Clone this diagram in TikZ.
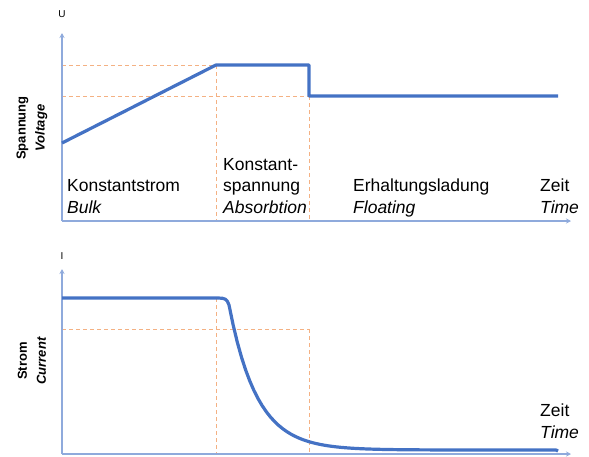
\documentclass[tikz,border=0pt]{standalone}
\usepackage{fontspec}
\setmainfont{Liberation Sans}
\usepackage{tikz}
\usetikzlibrary{positioning,arrows.meta}
\definecolor{axisblue}{HTML}{8FAADC}
\definecolor{curveblue}{HTML}{4472C4}
\definecolor{guideorange}{HTML}{F4B183}

\begin{document}
\begin{tikzpicture}[x=1pt, y=-1pt, every node/.style={font=\fontsize{17.5}{21.5}\selectfont, inner sep=0pt},
  axis/.style={draw=axisblue, line width=1.3pt, -{Stealth[length=5pt,width=5pt]}},
  curve/.style={draw=curveblue, line width=3.2pt, line join=round},
  guide/.style={draw=guideorange, line width=0.9pt, dash pattern=on 4pt off 3pt}]
\useasboundingbox (0,0) rectangle (589,456);
% voltage plot
\coordinate (u0) at (62,221);
\coordinate (ut) at (62,33); \coordinate (ur) at (571,221);
\coordinate (ustart) at (62,143); \coordinate (uhi) at (216,65); \coordinate (uoff) at (309,65);
\coordinate (udrop) at (309,96); \coordinate (uend) at (558,96);
\draw[guide] (62,65)--(uhi); \draw[guide] (62,96)--(udrop); \draw[guide] (uhi)--(216,221); \draw[guide] (udrop)--(309,221);
\draw[axis] (u0)--(ut); \draw[axis] (u0)--(ur);
\draw[curve] (ustart)--(uhi)--(uoff)--(udrop)--(uend);
\node[font=\fontsize{10}{12}\selectfont] (ulab) at (62,14) {U};
\node[rotate=90, align=center, font=\fontsize{13}{19}\bfseries] (uname) at (32,128) {Spannung\\\itshape Voltage};
\node[anchor=base west, align=left] (bulk) at (67,213) {Konstantstrom\\\itshape Bulk};
\node[anchor=base west, align=left] (absorb) at (223,213) {Konstant-\\spannung\\\itshape Absorbtion};
\node[anchor=base west, align=left] (float) at (353,213) {Erhaltungsladung\\\itshape Floating};
\node[anchor=base west, align=left] (utime) at (540,213) {Zeit\\\itshape Time};
% current plot
\coordinate (i0) at (62,454);
\coordinate (it) at (62,269); \coordinate (ir) at (571,454);
\coordinate (istart) at (62,298); \coordinate (iknee) at (218,298);
\draw[guide] (62,329)--(309,329); \draw[guide] (216,298)--(216,454); \draw[guide] (309,329)--(309,454);
\draw[axis] (i0)--(it); \draw[axis] (i0)--(ir);
\draw[curve] (istart)--(iknee) .. controls (225,298) and (227,299) .. (229,305)
  -- plot[domain=229:556, samples=80] (\x, {450-145*exp(-(\x-229)/28)}) -- (558,451);
\node[font=\fontsize{10}{12}\selectfont] (ilab) at (62,256) {I};
\node[rotate=90, align=center, font=\fontsize{13}{19}\bfseries] (iname) at (32,361) {Strom\\\itshape Current};
\node[anchor=base west, align=left] (itime) at (540,438) {Zeit\\\itshape Time};
\end{tikzpicture}
\end{document}
